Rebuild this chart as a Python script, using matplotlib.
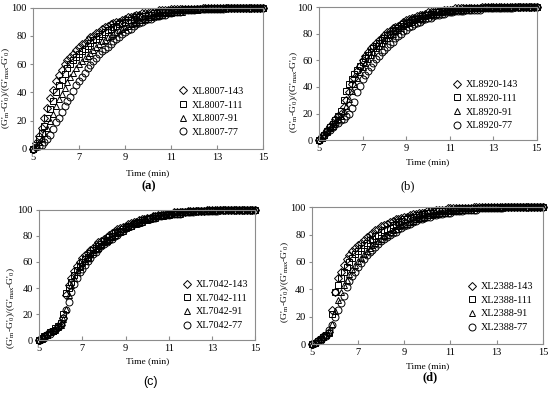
import numpy as np
import matplotlib
matplotlib.use("Agg")
import matplotlib.pyplot as plt

plt.rcParams['font.family'] = ['Liberation Serif', 'DejaVu Serif']
plt.rcParams['mathtext.fontset'] = 'custom'
plt.rcParams['mathtext.rm'] = 'Liberation Serif'
plt.rcParams['mathtext.it'] = 'Liberation Serif'
plt.rcParams['mathtext.default'] = 'regular'

# time axis (min), one reading every 7.5 s
time = np.linspace(5, 15, 81)

# panel (a) XL8007
a143 = [0,
        4, 9, 15, 22, 29, 36, 42, 48,
        52, 56, 60, 63, 65, 67, 70, 72,
        74, 75, 77, 79, 80, 82, 83, 85,
        86, 87, 88, 89, 90, 90, 91, 92,
        93, 93, 94, 95, 95, 96, 96, 96,
        97, 97, 97, 98, 98, 98, 98, 99,
        99, 99, 99, 99, 99, 99, 99, 99,
        99, 99, 100, 100, 100, 100, 100, 100,
        100, 100, 100, 100, 100, 100, 100, 100,
        100, 100, 100, 100, 100, 100, 100, 100]
a111 = [0,
        3, 7, 11, 16, 22, 28, 34, 40,
        45, 49, 53, 57, 60, 63, 65, 67,
        69, 71, 73, 75, 77, 78, 80, 81,
        83, 84, 85, 86, 87, 88, 89, 90,
        91, 91, 92, 93, 93, 94, 94, 95,
        95, 96, 96, 97, 97, 97, 97, 98,
        98, 98, 98, 98, 99, 99, 99, 99,
        99, 99, 99, 99, 100, 100, 100, 100,
        100, 100, 100, 100, 100, 100, 100, 100,
        100, 100, 100, 100, 100, 100, 100, 100]
a91 = [0,
       2, 5, 8, 11, 15, 20, 25, 30,
       35, 39, 43, 47, 51, 54, 57, 60,
       62, 64, 66, 68, 70, 72, 74, 76,
       77, 79, 80, 81, 83, 84, 85, 86,
       87, 88, 89, 90, 91, 91, 92, 93,
       93, 94, 94, 95, 95, 96, 96, 96,
       97, 97, 97, 97, 98, 98, 98, 98,
       98, 99, 99, 99, 99, 99, 99, 99,
       99, 100, 100, 100, 100, 100, 100, 100,
       100, 100, 100, 100, 100, 100, 100, 100]
a77 = [0,
       1, 2, 3, 5, 7, 10, 14, 19,
       22, 26, 30, 34, 37, 41, 45, 48,
       51, 54, 57, 59, 62, 64, 67, 69,
       71, 72, 74, 76, 78, 79, 81, 83,
       84, 85, 87, 88, 89, 90, 91, 92,
       92, 93, 94, 94, 95, 95, 96, 96,
       97, 97, 97, 98, 98, 98, 98, 98,
       99, 99, 99, 99, 99, 99, 99, 99,
       99, 99, 100, 100, 100, 100, 100, 100,
       100, 100, 100, 100, 100, 100, 100, 100]

# panel (b) XL8920
b143 = [0,
        3, 5, 8, 11, 13, 16, 18, 20,
        25, 30, 36, 42, 47, 52, 56, 60,
        63, 66, 69, 71, 73, 75, 77, 79,
        81, 82, 84, 85, 86, 87, 89, 90,
        91, 92, 92, 93, 94, 94, 95, 96,
        96, 96, 97, 97, 97, 98, 98, 98,
        98, 99, 99, 99, 99, 99, 99, 99,
        99, 99, 99, 100, 100, 100, 100, 100,
        100, 100, 100, 100, 100, 100, 100, 100,
        100, 100, 100, 100, 100, 100, 100, 100]
b111 = [0,
        2, 4, 7, 10, 12, 15, 18, 22,
        30, 37, 42, 46, 50, 53, 56, 59,
        62, 64, 66, 69, 71, 73, 75, 77,
        79, 80, 82, 83, 84, 86, 87, 88,
        89, 90, 91, 91, 92, 93, 94, 94,
        95, 95, 96, 96, 97, 97, 97, 97,
        98, 98, 98, 98, 98, 99, 99, 99,
        99, 99, 99, 99, 99, 100, 100, 100,
        100, 100, 100, 100, 100, 100, 100, 100,
        100, 100, 100, 100, 100, 100, 100, 100]
b91 = [0,
       2, 4, 6, 9, 11, 14, 16, 18,
       22, 26, 31, 37, 42, 47, 51, 55,
       58, 61, 64, 66, 69, 71, 73, 75,
       77, 79, 80, 82, 83, 84, 86, 87,
       88, 89, 90, 91, 91, 92, 93, 94,
       94, 95, 95, 96, 96, 97, 97, 97,
       97, 98, 98, 98, 98, 98, 99, 99,
       99, 99, 99, 99, 99, 99, 99, 100,
       100, 100, 100, 100, 100, 100, 100, 100,
       100, 100, 100, 100, 100, 100, 100, 100]
b77 = [0,
       2, 4, 6, 8, 10, 12, 13, 15,
       16, 18, 20, 24, 29, 36, 41, 46,
       49, 52, 55, 58, 61, 63, 66, 68,
       70, 72, 74, 77, 78, 80, 82, 83,
       85, 86, 87, 88, 89, 90, 91, 92,
       92, 93, 94, 94, 95, 95, 96, 96,
       96, 97, 97, 97, 97, 98, 98, 98,
       98, 98, 98, 99, 99, 99, 99, 99,
       99, 99, 99, 99, 99, 99, 99, 100,
       100, 100, 100, 100, 100, 100, 100, 100]

# panel (c) XL7042
c143 = [0,
        2, 3, 5, 6, 7, 8, 10, 12,
        17, 35, 42, 48, 53, 57, 60, 63,
        65, 67, 69, 71, 73, 75, 76, 78,
        79, 81, 82, 84, 85, 86, 87, 88,
        89, 90, 91, 91, 92, 93, 93, 94,
        94, 95, 95, 96, 96, 96, 97, 97,
        97, 98, 98, 98, 98, 98, 99, 99,
        99, 99, 99, 99, 99, 100, 100, 100,
        100, 100, 100, 100, 100, 100, 100, 100,
        100, 100, 100, 100, 100, 100, 100, 100]
c111 = [0,
        2, 3, 4, 6, 7, 9, 11, 13,
        20, 36, 40, 45, 50, 54, 57, 60,
        62, 64, 67, 69, 71, 72, 74, 76,
        77, 79, 80, 82, 83, 84, 85, 87,
        88, 88, 89, 90, 91, 92, 92, 93,
        94, 94, 95, 95, 96, 96, 96, 97,
        97, 97, 98, 98, 98, 98, 98, 99,
        99, 99, 99, 99, 99, 99, 100, 100,
        100, 100, 100, 100, 100, 100, 100, 100,
        100, 100, 100, 100, 100, 100, 100, 100]
c91 = [0,
       1, 3, 4, 6, 7, 8, 10, 12,
       16, 24, 35, 42, 48, 52, 56, 59,
       61, 63, 66, 68, 70, 71, 73, 75,
       76, 78, 79, 81, 82, 83, 84, 86,
       87, 88, 89, 89, 90, 91, 92, 92,
       93, 94, 94, 95, 95, 95, 96, 96,
       97, 97, 97, 97, 98, 98, 98, 98,
       99, 99, 99, 99, 99, 99, 99, 99,
       100, 100, 100, 100, 100, 100, 100, 100,
       100, 100, 100, 100, 100, 100, 100, 100]
c77 = [0,
       1, 2, 4, 5, 7, 8, 10, 13,
       17, 23, 29, 37, 43, 48, 52, 55,
       58, 61, 63, 66, 68, 70, 72, 74,
       75, 77, 78, 80, 81, 83, 84, 86,
       87, 88, 89, 90, 90, 91, 92, 93,
       93, 94, 94, 95, 95, 96, 96, 96,
       97, 97, 97, 97, 98, 98, 98, 98,
       98, 99, 99, 99, 99, 99, 99, 99,
       99, 99, 100, 100, 100, 100, 100, 100,
       100, 100, 100, 100, 100, 100, 100, 100]

# panel (d) XL2388
d143 = [0,
        1, 3, 4, 6, 7, 9, 25, 38,
        48, 53, 58, 62, 65, 68, 70, 72,
        74, 76, 78, 80, 81, 83, 84, 86,
        87, 88, 89, 90, 91, 91, 92, 93,
        93, 94, 95, 95, 96, 96, 96, 97,
        97, 97, 98, 98, 98, 98, 99, 99,
        99, 99, 99, 99, 99, 99, 99, 100,
        100, 100, 100, 100, 100, 100, 100, 100,
        100, 100, 100, 100, 100, 100, 100, 100,
        100, 100, 100, 100, 100, 100, 100, 100]
d111 = [0,
        1, 2, 4, 5, 7, 8, 22, 38,
        43, 48, 53, 56, 60, 63, 66, 68,
        70, 72, 74, 76, 77, 79, 80, 82,
        83, 84, 85, 87, 88, 89, 90, 91,
        91, 92, 93, 93, 94, 95, 95, 96,
        96, 96, 97, 97, 97, 98, 98, 98,
        98, 98, 99, 99, 99, 99, 99, 99,
        99, 99, 99, 100, 100, 100, 100, 100,
        100, 100, 100, 100, 100, 100, 100, 100,
        100, 100, 100, 100, 100, 100, 100, 100]
d91 = [0,
       1, 2, 4, 5, 7, 9, 15, 24,
       32, 38, 43, 47, 51, 55, 58, 61,
       63, 66, 68, 70, 72, 74, 75, 77,
       79, 80, 82, 83, 84, 86, 87, 88,
       88, 89, 90, 91, 92, 92, 93, 94,
       94, 95, 95, 96, 96, 96, 97, 97,
       97, 97, 98, 98, 98, 98, 98, 99,
       99, 99, 99, 99, 99, 99, 99, 99,
       99, 100, 100, 100, 100, 100, 100, 100,
       100, 100, 100, 100, 100, 100, 100, 100]
d77 = [0,
       1, 2, 3, 5, 6, 10, 14, 20,
       25, 30, 35, 42, 46, 50, 53, 56,
       59, 62, 65, 67, 69, 71, 73, 75,
       77, 78, 80, 81, 82, 84, 85, 86,
       87, 88, 89, 90, 91, 91, 92, 93,
       93, 94, 94, 95, 95, 96, 96, 96,
       97, 97, 97, 97, 98, 98, 98, 98,
       98, 99, 99, 99, 99, 99, 99, 99,
       99, 99, 100, 100, 100, 100, 100, 100,
       100, 100, 100, 100, 100, 100, 100, 100]

suffixes = ['143', '111', '91', '77']
markers = ['D', 's', '^', 'o']
msizes = [4.0, 4.6, 5.0, 5.0]

panels = [
    ('XL8007', [a143, a111, a91, a77], '(a)'),
    ('XL8920', [b143, b111, b91, b77], '(b)'),
    ('XL7042', [c143, c111, c91, c77], '(c)'),
    ('XL2388', [d143, d111, d91, d77], '(d)'),
]

# axes boxes [left, bottom, width, height] in figure fraction
boxes = [[0.060, 0.624, 0.418, 0.357],
         [0.580, 0.646, 0.396, 0.336],
         [0.071, 0.141, 0.393, 0.329],
         [0.567, 0.131, 0.420, 0.346]]
leg_anchor = [(0.63, 0.085), (0.61, 0.075), (0.66, 0.077), (0.67, 0.088)]
xlab_y = [-0.14, -0.135, -0.131, -0.131]
ylab_pos = [(-0.09, 0.43), (-0.085, 0.36), (-0.10, 0.25), (-0.09, 0.45)]
tag_pos = [(0.27, 0.515), (0.742, 0.515), (0.273, 0.02), (0.782, 0.033)]
tag_style = [('bold', 'Liberation Serif'), ('normal', 'Liberation Serif'),
             ('normal', 'Liberation Sans'), ('bold', 'Liberation Serif')]

ylabel = "(G'$_{m}$-G'$_{0}$)/(G'$_{max}$-G'$_{0}$)"

fig = plt.figure(figsize=(5.5, 3.96), dpi=100)
for i, (name, series, tag) in enumerate(panels):
    ax = fig.add_axes(boxes[i])
    for vals, suf, mk, ms in zip(series, suffixes, markers, msizes):
        ax.plot(time, vals, linestyle='none', marker=mk, ms=ms,
                mfc='none', mec='black', mew=0.7, clip_on=False,
                label=name + '-' + suf)
    ax.set_xlim(5, 15)
    ax.set_ylim(0, 100)
    ax.set_xticks([5, 7, 9, 11, 13, 15])
    ax.set_yticks([0, 20, 40, 60, 80, 100])
    for sp in ax.spines.values():
        sp.set_color('#8c8c8c')
        sp.set_linewidth(0.8)
    ax.tick_params(axis='x', direction='in', length=3, color='#8c8c8c',
                   labelsize=7.5, pad=3)
    ax.tick_params(axis='y', direction='out', length=2.5, color='#8c8c8c',
                   labelsize=7.5, pad=2)
    ax.set_xlabel('Time (min)', fontsize=6.8)
    ax.xaxis.set_label_coords(0.5, xlab_y[i])
    ax.set_ylabel(ylabel, fontsize=6.8)
    ax.yaxis.set_label_coords(*ylab_pos[i])
    ax.legend(loc='lower left', bbox_to_anchor=leg_anchor[i], frameon=False,
              fontsize=7.3, handlelength=1.0, handletextpad=0.4,
              labelspacing=0.45, borderpad=0, borderaxespad=0)
    w, fam = tag_style[i]
    fig.text(tag_pos[i][0], tag_pos[i][1], tag, ha='center', va='bottom',
             fontsize=9, fontweight=w, family=fam)

fig.savefig('out.png', dpi=100)
